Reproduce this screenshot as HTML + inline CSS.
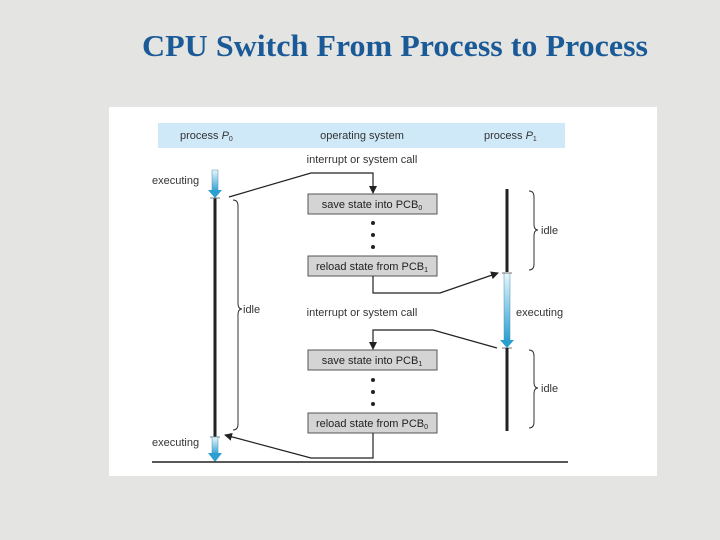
<!DOCTYPE html>
<html><head><style>
body{margin:0;width:720px;height:540px;background:#e4e4e2;overflow:hidden;font-family:"Liberation Sans",sans-serif}
</style></head><body>
<svg width="720" height="540" xmlns="http://www.w3.org/2000/svg" style="position:absolute;left:0;top:0">
<defs>
<linearGradient id="g" x1="0" y1="0" x2="0" y2="1"><stop offset="0" stop-color="#e8f6fc"/><stop offset="1" stop-color="#2a9fd0"/></linearGradient>
<marker id="a" markerWidth="8" markerHeight="8" refX="7" refY="4" orient="auto" markerUnits="userSpaceOnUse"><path d="M0,0 L8,4 L0,8 z" fill="#222"/></marker>
</defs>
<text x="395" y="56" text-anchor="middle" font-family="Liberation Serif" font-weight="bold" font-size="31" fill="#1a5a96" textLength="506" lengthAdjust="spacingAndGlyphs">CPU Switch From Process to Process</text>
<rect x="109" y="107" width="548" height="369" fill="#fff"/>
<rect x="158" y="123" width="407" height="25" fill="#cfe9f8"/>
<g font-size="11" fill="#333">
<text x="180" y="139">process <tspan font-style="italic">P</tspan><tspan font-size="7" dy="2">0</tspan></text>
<text x="362" y="139" text-anchor="middle">operating system</text>
<text x="484" y="139">process <tspan font-style="italic">P</tspan><tspan font-size="7" dy="2">1</tspan></text>
<text x="362" y="163" text-anchor="middle">interrupt or system call</text>
<text x="362" y="316" text-anchor="middle">interrupt or system call</text>
<text x="152" y="184">executing</text>
<text x="152" y="446">executing</text>
<text x="516" y="316">executing</text>
<text x="243" y="313">idle</text>
<text x="541" y="234">idle</text>
<text x="541" y="392">idle</text>
</g>
<rect x="212" y="170" width="6" height="22" fill="url(#g)" stroke="#4a8fb0" stroke-width="0.5"/>
<path d="M208,190 L222,190 L215,198 z" fill="#2a9fd0"/>
<line x1="215" y1="198" x2="215" y2="437" stroke="#222" stroke-width="3"/>
<line x1="210" y1="198" x2="220" y2="198" stroke="#777"/>
<line x1="210" y1="437" x2="220" y2="437" stroke="#777"/>
<rect x="212" y="437" width="6" height="18" fill="url(#g)" stroke="#4a8fb0" stroke-width="0.5"/>
<path d="M208,453 L222,453 L215,462 z" fill="#2a9fd0"/>
<line x1="507" y1="189" x2="507" y2="272" stroke="#222" stroke-width="3"/>
<rect x="504" y="273" width="6" height="68" fill="url(#g)" stroke="#4a8fb0" stroke-width="0.5"/>
<path d="M500,340 L514,340 L507,348 z" fill="#2a9fd0"/>
<line x1="502" y1="273" x2="512" y2="273" stroke="#777"/>
<line x1="502" y1="348" x2="512" y2="348" stroke="#777"/>
<line x1="507" y1="348" x2="507" y2="431" stroke="#222" stroke-width="3"/>
<g font-size="11" fill="#222" text-anchor="middle">
<rect x="308" y="194" width="129" height="20" fill="#d4d4d4" stroke="#555"/>
<text x="372" y="208">save state into PCB<tspan font-size="7" dy="2">0</tspan></text>
<rect x="308" y="256" width="129" height="20" fill="#d4d4d4" stroke="#555"/>
<text x="372" y="270">reload state from PCB<tspan font-size="7" dy="2">1</tspan></text>
<rect x="308" y="350" width="129" height="20" fill="#d4d4d4" stroke="#555"/>
<text x="372" y="364">save state into PCB<tspan font-size="7" dy="2">1</tspan></text>
<rect x="308" y="413" width="129" height="20" fill="#d4d4d4" stroke="#555"/>
<text x="372" y="427">reload state from PCB<tspan font-size="7" dy="2">0</tspan></text>
</g>
<g fill="#222">
<circle cx="373" cy="223" r="2"/><circle cx="373" cy="235" r="2"/><circle cx="373" cy="247" r="2"/>
<circle cx="373" cy="380" r="2"/><circle cx="373" cy="392" r="2"/><circle cx="373" cy="404" r="2"/>
</g>
<g fill="none" stroke="#222" stroke-width="1.2">
<polyline points="229,197 311,173 373,173 373,193" marker-end="url(#a)"/>
<polyline points="373,276 373,293 440,293 498,273" marker-end="url(#a)"/>
<polyline points="497,348 433,330 373,330 373,349" marker-end="url(#a)"/>
<polyline points="373,433 373,458 311,458 225,435" marker-end="url(#a)"/>
<line x1="152" y1="462" x2="568" y2="462" stroke-width="1.5"/>
</g>
<g fill="none" stroke="#333" stroke-width="1">
<path d="M233,200 Q238,200 238,206 L238,303 Q238,309 242,309 Q238,309 238,315 L238,424 Q238,430 233,430"/>
<path d="M529,191 Q534,191 534,197 L534,224 Q534,230 538,230 Q534,230 534,236 L534,264 Q534,270 529,270"/>
<path d="M529,350 Q534,350 534,356 L534,382 Q534,388 538,388 Q534,388 534,394 L534,422 Q534,428 529,428"/>
</g>
</svg>
</body></html>
